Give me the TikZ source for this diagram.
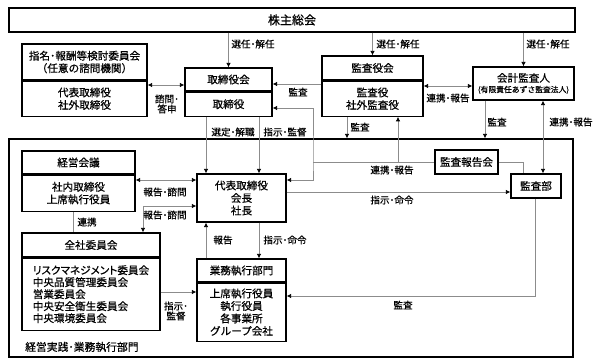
\documentclass[tikz,border=0pt]{standalone}
\usepackage{fontspec}
\setmainfont{Noto Sans CJK JP}[FakeBold=0.6]
\newfontfamily\jpprop{Noto Sans CJK JP}[RawFeature={+palt}, FakeBold=0.6]
\usetikzlibrary{positioning,arrows.meta}

\begin{document}
\begin{tikzpicture}[x=1pt, y=-1pt,
  org/.style={draw, line width=1.2pt, inner sep=0pt, align=center,
              font=\fontsize{10.6}{12.5}\selectfont},
  lbl/.style={font=\fontsize{9.6}{10}\selectfont, inner sep=0pt, align=center},
  arr/.style={-{Latex[length=4.5pt,width=4.5pt,black]}, draw=black!45, line width=0.8pt},
  biarr/.style={{Latex[length=4.5pt,width=4.5pt,black]}-{Latex[length=4.5pt,width=4.5pt,black]},
                draw=black!45, line width=0.8pt},
  link/.style={draw=black!45, line width=0.8pt},
]
\useasboundingbox (0,0) rectangle (598,363);

% top row
\node[org, minimum width=566, minimum height=24, font=\fontsize{12}{14}\selectfont] (kabu) at (292,20) {株主総会};

\node[org, minimum width=125, minimum height=36] (shimeih) at (84.5,62) {指名･報酬等検討委員会\\（任意の諮問機関）};
\node[org, minimum width=125, minimum height=35, below=0pt of shimeih] (shimeib) {代表取締役\\社外取締役};

\node[org, minimum width=87, minimum height=23] (torih) at (228.5,79.5) {取締役会};
\node[org, minimum width=87, minimum height=24, below=0pt of torih] (torib) {取締役};

\node[org, minimum width=101, minimum height=24] (kansah) at (372.5,68) {監査役会};
\node[org, minimum width=101, minimum height=35, below=0pt of kansah] (kansab) {監査役\\社外監査役};

\node[org, minimum width=101, minimum height=33] (kaikei) at (523.5,83.5)
  {会計監査人\\[-2pt]{\fontsize{7.8}{9}\selectfont (有限責任あずさ監査法人)}};

% execution area
\node[draw, line width=1.2pt, inner sep=0pt, minimum width=564, minimum height=218] (field) at (291,248) {};

\node[org, minimum width=113, minimum height=23] (keieih) at (78.5,162.5) {経営会議};
\node[org, minimum width=113, minimum height=36, below=0pt of keieih] (keieib) {社内取締役\\上席執行役員};

\node[org, minimum width=89, minimum height=48] (daihyo) at (241.5,198) {代表取締役\\会長\\社長};

\node[org, minimum width=138, minimum height=24] (zenshah) at (91,245) {全社委員会};
\node[org, minimum width=138, minimum height=72, align=left, font=\fontsize{10.6}{12}\selectfont,
      below=0pt of zenshah] (zenshab)
  {{\jpprop リスクマネジメント}委員会\\中央品質管理委員会\\営業委員会\\中央安全衛生委員会\\中央環境委員会};

\node[org, minimum width=89, minimum height=23] (gyomuh) at (241.5,270.5) {業務執行部門};
\node[org, minimum width=89, minimum height=58, below=0pt of gyomuh] (gyomub) {上席執行役員\\執行役員\\各事業所\\グループ会社};

\node[org, line width=1.7pt, minimum width=63, minimum height=24] (kho) at (466.5,162) {監査報告会};
\node[org, minimum width=50, minimum height=24] (kansabu) at (536,186) {監査部};

% election by shareholders
\foreach \n in {torih, kansah, kaikei}{ \draw[arr] (kabu.south -| \n.north) -- (\n.north); }
\foreach \n/\x in {lsen1/253, lsen2/398, lsen3/548}{ \node[lbl] (\n) at (\x,44) {選任･解任}; }

\draw[biarr] (shimeib.east |- 0,85) -- (torih.west |- 0,85);
\node[lbl] (lshi) at (167,104) {諮問･\\答申};

\draw[arr] (kansab.west |- 0,84) -- (torih.east |- 0,84);
\node[lbl] (lka1) at (298,92) {監査};

% audit report meeting
\coordinate (jct) at (kho.west -| 313,0);
\draw[biarr] (torib.east |- 0,108) -| (jct) |- (daihyo.east |- 0,180);
\draw[link] (jct) -- (kho.west);
\draw[arr] (kho.west -| 398,0) -- (kansab.south -| 398,0);
\node[lbl] (lren1) at (392,170) {連携･報告};
\draw[link] (kho.east) -| (kansabu.north -| 523,0);

\draw[arr] (kansab.south -| 347,0) -- (field.north -| 347,0);
\node[lbl] (lka2) at (360,127) {監査};
\draw[arr] (kaikei.south -| 485,0) -- (field.north -| 485,0);
\node[lbl] (lka3) at (497,122) {監査};

\draw[biarr] (kansab.east |- 0,86) -- (kaikei.west |- 0,86);
\node[lbl] (lren2) at (448,98) {連携･報告};
\draw[biarr] (kaikei.south -| 543,0) -- (kansabu.north -| 543,0);
\node[lbl] (lren3) at (571,122) {連携･報告};

% board to representative director
\draw[arr] (torib.south -| 206,0) -- (daihyo.north -| 206,0);
\draw[arr] (torib.south -| 259,0) -- (daihyo.north -| 259,0);
\node[lbl] (lsentei) at (233,132) {選定･解職};
\node[lbl] (lshiji1) at (285,132) {指示･監督};

\draw[biarr] (keieib.east |- 0,180) -- (daihyo.west |- 0,180);
\node[lbl] (lhou1) at (165,192) {報告･諮問};
\draw[biarr] (daihyo.west |- 0,206) -| (zenshah.north -| 143,0);
\node[lbl] (lhou2) at (165,215) {報告･諮問};

\draw[link] (keieib.south -| 73,0) -- (zenshah.north -| 73,0);
\node[lbl] (lrenkei) at (87,222) {連携};

\draw[arr] (zenshab.east |- 0,292) -- (gyomub.west |- 0,292);
\node[lbl] (lshiji2) at (176,311) {指示･\\監督};

\draw[arr] (gyomuh.north -| 206,0) -- (daihyo.south -| 206,0);
\draw[arr] (daihyo.south -| 259,0) -- (gyomuh.north -| 259,0);
\node[lbl] (lhou3) at (223,240) {報告};
\node[lbl] (lmei1) at (285,240) {指示･命令};

\draw[arr] (daihyo.east |- 0,192) -- (kansabu.west |- 0,192);
\node[lbl] (lmei2) at (392,200) {指示･命令};

\draw[arr] (kansabu.south -| 535,0) |- (gyomub.east |- 0,296);
\node[lbl] (lka4) at (403,305) {監査};

\node[lbl, anchor=west, font=\fontsize{10.8}{12}\selectfont] (fieldlbl) at (25,347) {経営実践･業務執行部門};
\end{tikzpicture}
\end{document}
